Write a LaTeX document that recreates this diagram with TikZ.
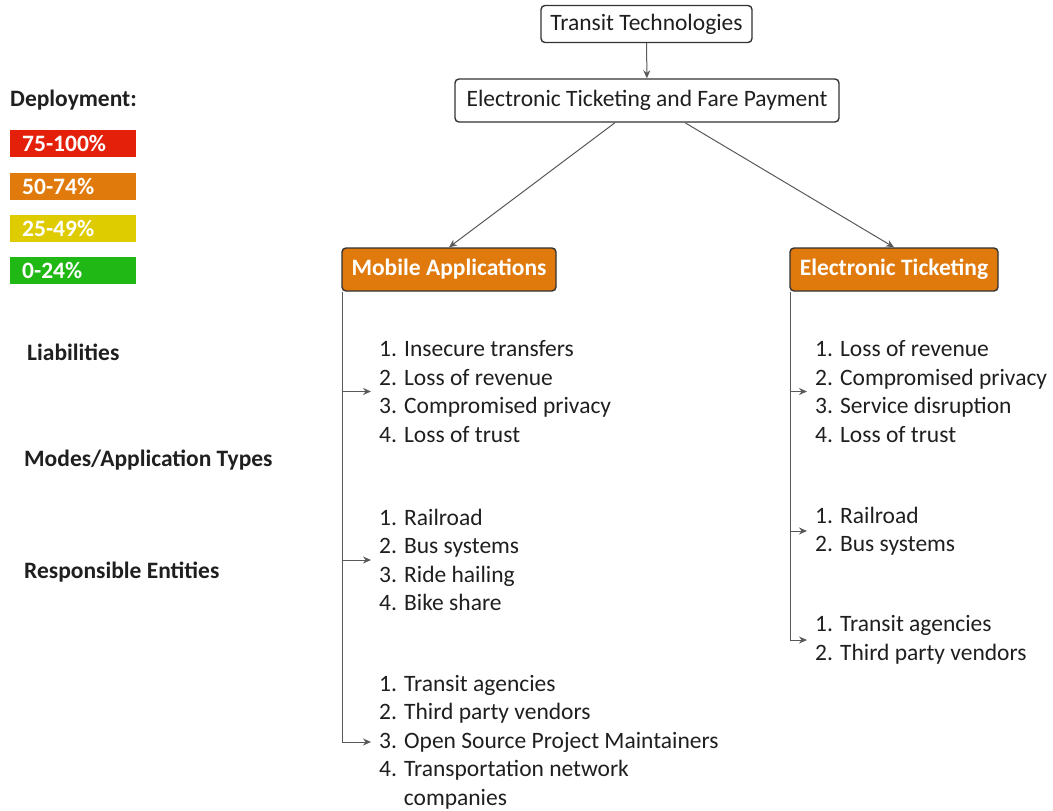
\documentclass[tikz,border=0pt]{standalone}
\usepackage{fontspec}
\setmainfont{Carlito}
\usetikzlibrary{arrows.meta,positioning,calc}
\definecolor{depred}{HTML}{E4200B}
\definecolor{deporange}{HTML}{E07A0C}
\definecolor{depyellow}{HTML}{DECB00}
\definecolor{depgreen}{HTML}{1FB815}
\tikzset{
	txt/.style={font=\fontsize{23.5}{28.5}\selectfont, text=black!88, inner sep=0pt},
	bold/.style={txt, font=\fontsize{23.5}{28.5}\selectfont\bfseries},
	box/.style={txt, draw=black!80, line width=1.4, rounded corners=4, fill=white,
		minimum height=37},
	cat/.style={box, bold, fill=deporange, text=white, minimum height=43},
	legend/.style={bold, fill=#1, text=white, inner xsep=12,
		text width=102, align=left, minimum height=27},
	head/.style={bold, anchor=west},
	list/.style={txt, anchor=west, align=left, inner xsep=8},
	link/.style={draw=black!65, line width=1, -{Stealth[length=8,width=7]}}
}
\begin{document}
\begin{tikzpicture}[x=1pt,y=-1pt]
   \useasboundingbox (0,0) rectangle (1053,811);
   \node[box, minimum width=211] (tt) at (646.5,24) {Transit Technologies};
   \node[box, minimum width=384, minimum height=43] (ef) at (647,100.5)
      {Electronic Ticketing and Fare Payment};
   \node[cat, minimum width=214] (ma) at (449,269.5) {Mobile Applications};
   \node[cat, minimum width=208] (et) at (894,269.5) {Electronic Ticketing};
   \draw[link] (tt) -- (ef);
   \draw[link] ([xshift=-32]ef.south) -- (ma.north);
   \draw[link] ([xshift=38]ef.south) -- (et.north);
   % legend
   \node[head] (dep) at (10,100) {Deployment:};
   \node[legend=depred, anchor=north west] (leg1) at (10,130) {75-100\%};
   \node[legend=deporange, below=15pt of leg1] (leg2) {50-74\%};
   \node[legend=depyellow, below=15pt of leg2] (leg3) {25-49\%};
   \node[legend=depgreen, below=15pt of leg3] (leg4) {0-24\%};
   \node[head] (lia) at (27,352) {Liabilities};
   \node[head] (modes) at (24,460) {Modes/Application Types};
   \node[head] (ent) at (24,572) {Responsible Entities};
   % mobile applications
   \node[list] (malia) at (371,391.5)
      {1. Insecure transfers\\2. Loss of revenue\\3. Compromised privacy\\4. Loss of trust};
   \node[list] (mamod) at (371,560)
      {1. Railroad\\2. Bus systems\\3. Ride hailing\\4. Bike share};
   \node[list] (maent) at (371,742)
      {1. Transit agencies\\2. Third party vendors\\3. Open Source Project Maintainers\\
       4. Transportation network\\\hspace{1.05em}companies};
   \draw[link] ([xshift=1]ma.south west) |- (malia.west);
   \draw[link] ([xshift=1]ma.south west) |- (mamod.west);
   \draw[link] ([xshift=1]ma.south west) |- (maent.west);
   % electronic ticketing
   \node[list] (etlia) at (807,391.5)
      {1. Loss of revenue\\2. Compromised privacy\\3. Service disruption\\4. Loss of trust};
   \node[list] (etmod) at (807,531) {1. Railroad\\2. Bus systems};
   \node[list] (etent) at (807,640) {1. Transit agencies\\2. Third party vendors};
   \draw[link] ([xshift=1]et.south west) |- (etlia.west);
   \draw[link] ([xshift=1]et.south west) |- (etmod.west);
   \draw[link] ([xshift=1]et.south west) |- (etent.west);
\end{tikzpicture}
\end{document}
